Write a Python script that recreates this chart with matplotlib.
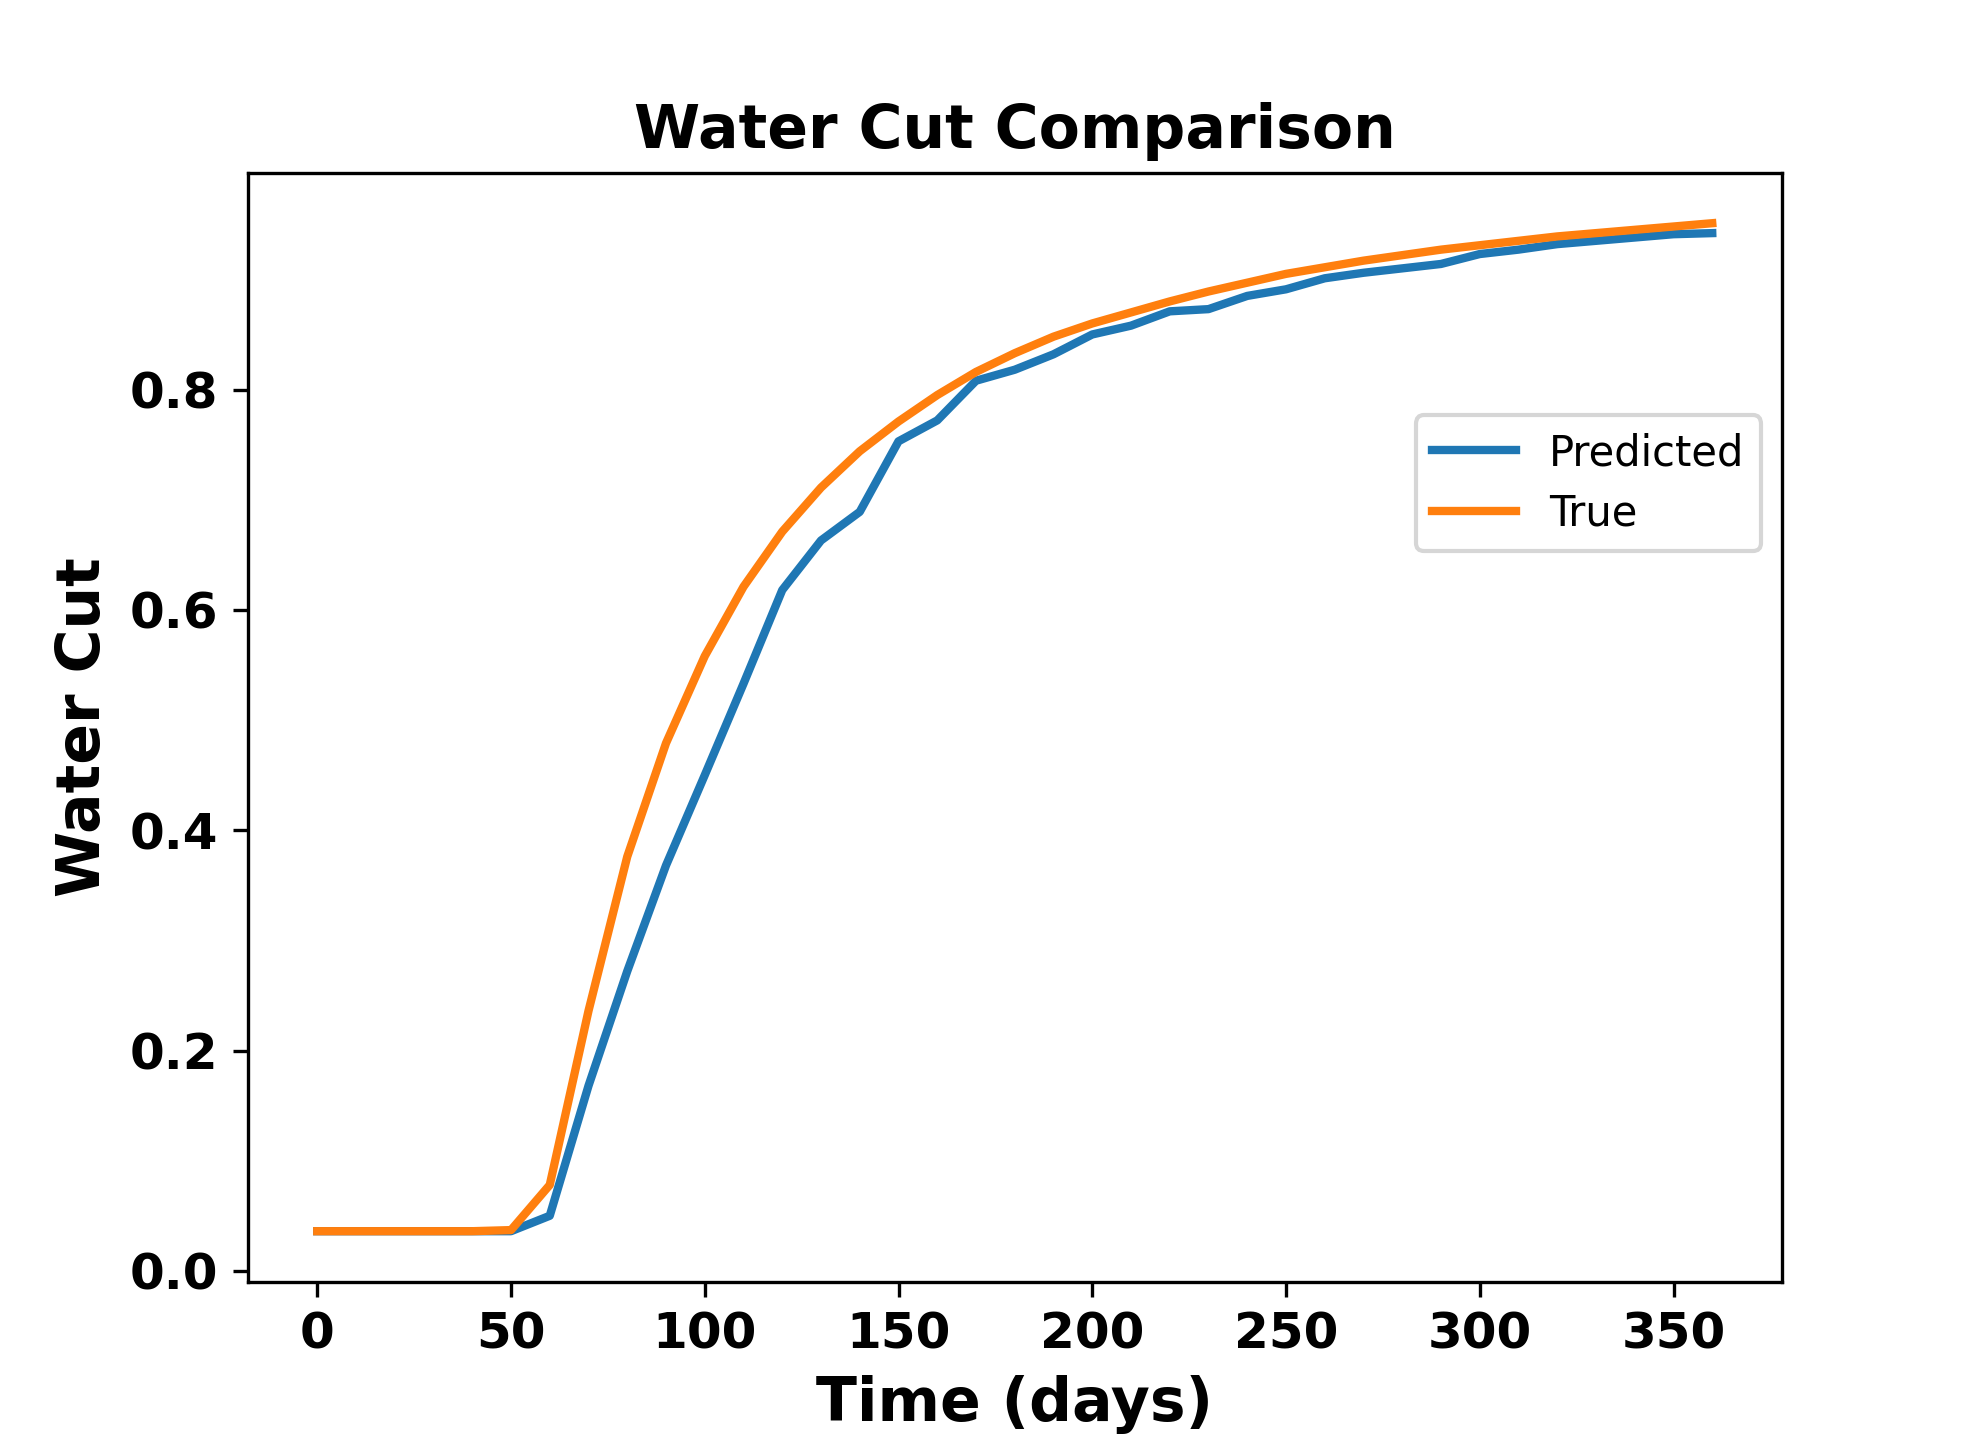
import numpy as np
import matplotlib
matplotlib.use("Agg")
import matplotlib.pyplot as plt

# time axis (days) and water cut values
days = np.arange(0, 370, 10)

predicted = [0.036, 0.036, 0.036, 0.036, 0.036, 0.036, 0.050, 0.168, 0.272, 0.368,
             0.450, 0.533, 0.618, 0.663, 0.689, 0.753, 0.772, 0.808, 0.818, 0.832,
             0.850, 0.858, 0.871, 0.873, 0.885, 0.891, 0.901, 0.906, 0.910, 0.914,
             0.923, 0.927, 0.932, 0.935, 0.938, 0.941, 0.942]

true_wc = [0.036, 0.036, 0.036, 0.036, 0.036, 0.037, 0.078, 0.236, 0.376, 0.479,
           0.558, 0.621, 0.671, 0.711, 0.744, 0.771, 0.795, 0.816, 0.833, 0.848,
           0.860, 0.870, 0.880, 0.889, 0.897, 0.905, 0.911, 0.917, 0.922, 0.927,
           0.931, 0.935, 0.939, 0.942, 0.945, 0.948, 0.951]

fig, ax = plt.subplots(figsize=(6.6, 4.8), dpi=300)

ax.plot(days, predicted, color="tab:blue", linewidth=2, label="Predicted")
ax.plot(days, true_wc, color="tab:orange", linewidth=2, label="True")

ax.set_title("Water Cut Comparison", fontsize=14.4, fontweight="bold")
ax.set_xlabel("Time (days)", fontsize=14.4, fontweight="bold")
ax.set_ylabel("Water Cut", fontsize=14.4, fontweight="bold")
ax.set_yticks([0.0, 0.2, 0.4, 0.6, 0.8])
for lbl in ax.get_xticklabels() + ax.get_yticklabels():
    lbl.set_fontsize(12)
    lbl.set_fontweight("bold")

ax.legend(loc="upper right", bbox_to_anchor=(1, 0.8), labelspacing=0.45)

fig.savefig("out.png", dpi=300)
